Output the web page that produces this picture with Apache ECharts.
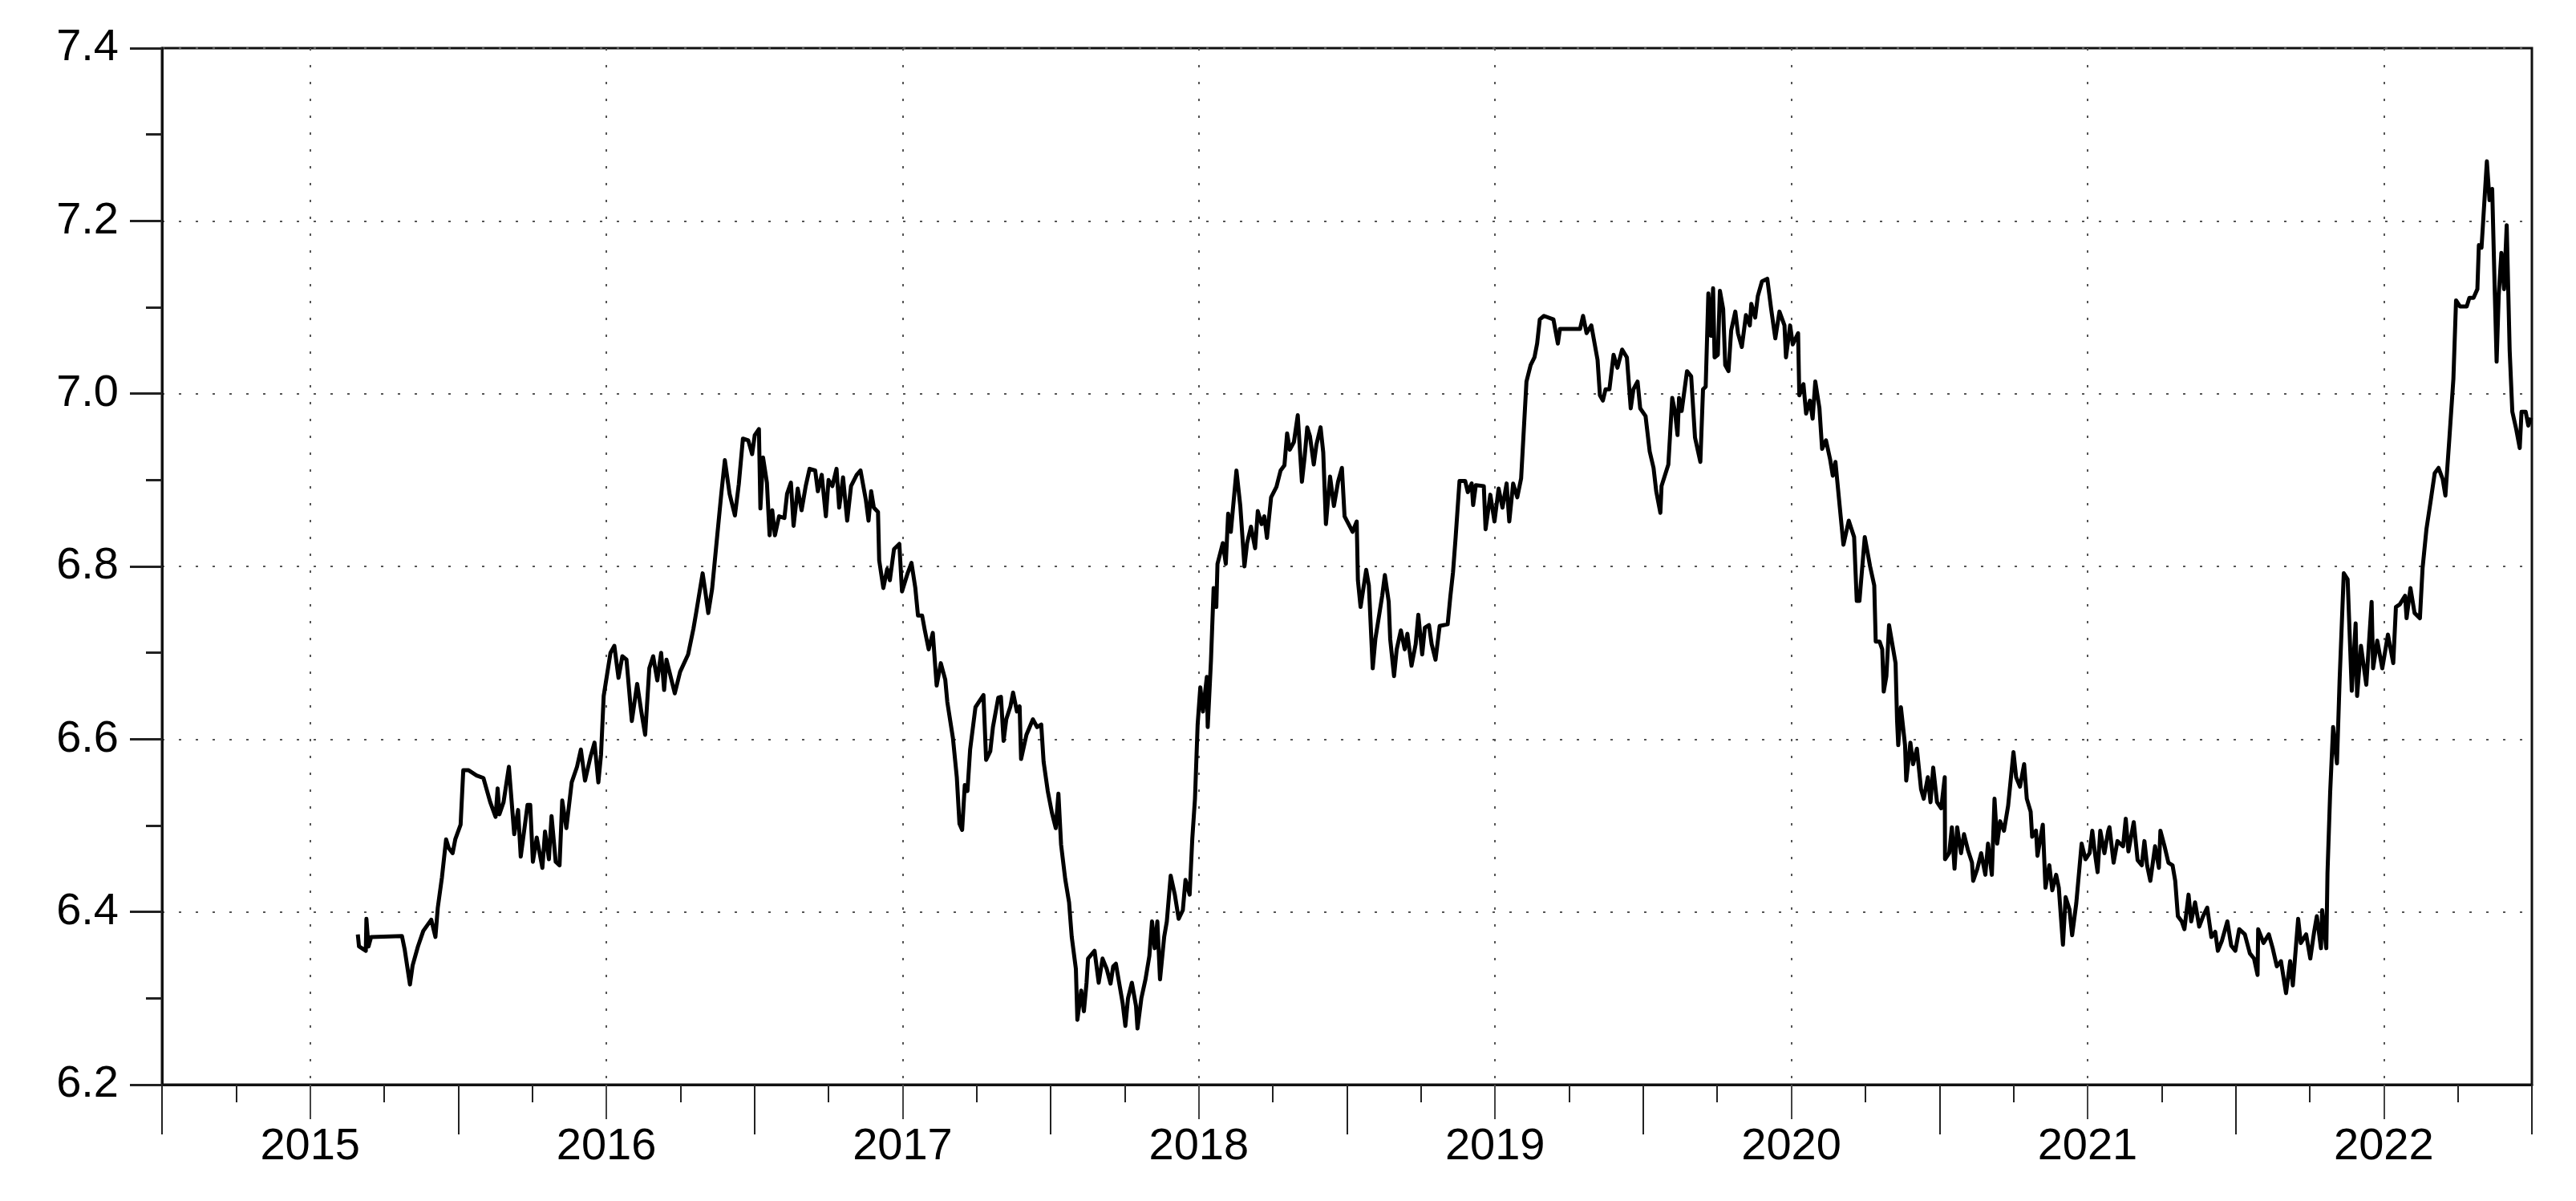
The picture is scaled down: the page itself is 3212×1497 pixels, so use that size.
<!DOCTYPE html>
<html><head><meta charset="utf-8">
<script src="https://cdn.jsdelivr.net/npm/echarts@6/dist/echarts.min.js"></script>
<style>html,body{margin:0;padding:0;background:#fff}#c{width:3212px;height:1497px}</style>
</head><body><div id="c"></div>
<script>
// [decimal year, rate]
const seg2015 = [[2015.661,6.374],[2015.665,6.360],[2015.688,6.355],[2015.690,6.392],[2015.697,6.360],[2015.706,6.371],[2015.810,6.372],[2015.819,6.357],[2015.837,6.316],[2015.846,6.338],[2015.864,6.360],[2015.882,6.378],[2015.909,6.391],[2015.923,6.371],[2015.931,6.405],[2015.945,6.440],[2015.959,6.484],[2015.968,6.474],[2015.981,6.468],[2015.990,6.484]];
const seg2016 = [[2016.008,6.501],[2016.017,6.564],[2016.035,6.564],[2016.062,6.558],[2016.085,6.555],[2016.108,6.527],[2016.126,6.510],[2016.133,6.543],[2016.139,6.513],[2016.153,6.527],[2016.171,6.568],[2016.189,6.490],[2016.202,6.518],[2016.211,6.464],[2016.234,6.524],[2016.243,6.524],[2016.252,6.458],[2016.265,6.486],[2016.284,6.451],[2016.293,6.493],[2016.306,6.461],[2016.315,6.511],[2016.329,6.458],[2016.342,6.454],[2016.351,6.529],[2016.365,6.497],[2016.383,6.550],[2016.401,6.568],[2016.414,6.588],[2016.428,6.552],[2016.446,6.579],[2016.460,6.596],[2016.473,6.550],[2016.482,6.582],[2016.491,6.650],[2016.514,6.700],[2016.527,6.708],[2016.541,6.671],[2016.554,6.696],[2016.568,6.692],[2016.586,6.621],[2016.604,6.664],[2016.618,6.632],[2016.631,6.605],[2016.645,6.682],[2016.658,6.696],[2016.672,6.668],[2016.685,6.700],[2016.695,6.657],[2016.703,6.692],[2016.731,6.653],[2016.749,6.678],[2016.776,6.698],[2016.794,6.728],[2016.803,6.746],[2016.825,6.792],[2016.834,6.771],[2016.844,6.746],[2016.857,6.774],[2016.871,6.824],[2016.888,6.884],[2016.900,6.923],[2016.916,6.884],[2016.934,6.859],[2016.947,6.895],[2016.961,6.948],[2016.979,6.946],[2016.992,6.930]];
const seg2017 = [[2017.001,6.952],[2017.015,6.959],[2017.020,6.867],[2017.029,6.926],[2017.042,6.897],[2017.051,6.836],[2017.060,6.865],[2017.069,6.836],[2017.083,6.858],[2017.101,6.856],[2017.110,6.884],[2017.123,6.897],[2017.132,6.847],[2017.146,6.890],[2017.159,6.865],[2017.173,6.893],[2017.186,6.913],[2017.205,6.911],[2017.214,6.887],[2017.227,6.906],[2017.241,6.858],[2017.250,6.900],[2017.263,6.893],[2017.277,6.913],[2017.286,6.868],[2017.299,6.903],[2017.313,6.853],[2017.326,6.893],[2017.345,6.906],[2017.358,6.911],[2017.376,6.877],[2017.385,6.853],[2017.394,6.887],[2017.403,6.868],[2017.417,6.863],[2017.421,6.807],[2017.435,6.775],[2017.448,6.797],[2017.457,6.784],[2017.471,6.820],[2017.489,6.826],[2017.498,6.771],[2017.516,6.791],[2017.530,6.804],[2017.543,6.775],[2017.552,6.743],[2017.566,6.743],[2017.575,6.726],[2017.588,6.704],[2017.602,6.723],[2017.615,6.662],[2017.629,6.688],[2017.644,6.669],[2017.651,6.643],[2017.670,6.601],[2017.683,6.556],[2017.692,6.502],[2017.701,6.495],[2017.710,6.547],[2017.719,6.540],[2017.728,6.588],[2017.746,6.637],[2017.773,6.651],[2017.782,6.576],[2017.796,6.586],[2017.805,6.614],[2017.823,6.648],[2017.832,6.649],[2017.841,6.598],[2017.850,6.623],[2017.864,6.638],[2017.873,6.654],[2017.886,6.632],[2017.895,6.638],[2017.900,6.577],[2017.918,6.605],[2017.940,6.623],[2017.954,6.614],[2017.968,6.617],[2017.976,6.574],[2017.990,6.540]];
const seg2018 = [[2018.004,6.515],[2018.017,6.497],[2018.026,6.537],[2018.035,6.478],[2018.049,6.438],[2018.062,6.411],[2018.071,6.371],[2018.085,6.334],[2018.090,6.275],[2018.103,6.309],[2018.112,6.285],[2018.121,6.318],[2018.126,6.346],[2018.148,6.355],[2018.162,6.318],[2018.175,6.346],[2018.189,6.334],[2018.202,6.317],[2018.211,6.337],[2018.220,6.340],[2018.229,6.322],[2018.243,6.294],[2018.252,6.268],[2018.261,6.300],[2018.274,6.318],[2018.288,6.291],[2018.293,6.265],[2018.306,6.300],[2018.320,6.322],[2018.333,6.349],[2018.342,6.389],[2018.351,6.358],[2018.360,6.389],[2018.369,6.322],[2018.383,6.371],[2018.392,6.389],[2018.405,6.442],[2018.419,6.420],[2018.432,6.392],[2018.446,6.402],[2018.455,6.437],[2018.469,6.420],[2018.478,6.485],[2018.487,6.531],[2018.496,6.617],[2018.505,6.660],[2018.514,6.632],[2018.527,6.672],[2018.530,6.614],[2018.541,6.691],[2018.550,6.775],[2018.559,6.753],[2018.563,6.803],[2018.581,6.827],[2018.591,6.803],[2018.599,6.861],[2018.608,6.840],[2018.627,6.911],[2018.640,6.870],[2018.654,6.800],[2018.663,6.827],[2018.676,6.846],[2018.690,6.821],[2018.699,6.864],[2018.712,6.849],[2018.721,6.858],[2018.730,6.833],[2018.744,6.880],[2018.762,6.892],[2018.776,6.911],[2018.789,6.917],[2018.798,6.954],[2018.807,6.935],[2018.821,6.944],[2018.834,6.975],[2018.848,6.898],[2018.857,6.926],[2018.866,6.961],[2018.875,6.951],[2018.888,6.918],[2018.897,6.941],[2018.911,6.961],[2018.920,6.932],[2018.929,6.849],[2018.943,6.904],[2018.956,6.870],[2018.970,6.898],[2018.983,6.914],[2018.992,6.858]];
const seg2019 = [[2019.010,6.846],[2019.019,6.840],[2019.033,6.852],[2019.037,6.784],[2019.046,6.753],[2019.065,6.796],[2019.074,6.778],[2019.087,6.682],[2019.096,6.716],[2019.119,6.766],[2019.128,6.790],[2019.141,6.759],[2019.146,6.716],[2019.159,6.673],[2019.168,6.704],[2019.182,6.726],[2019.195,6.704],[2019.204,6.722],[2019.218,6.685],[2019.232,6.710],[2019.241,6.744],[2019.254,6.698],[2019.263,6.729],[2019.277,6.732],[2019.286,6.710],[2019.299,6.692],[2019.313,6.731],[2019.340,6.733],[2019.349,6.765],[2019.358,6.793],[2019.367,6.834],[2019.380,6.899],[2019.399,6.899],[2019.408,6.886],[2019.421,6.896],[2019.426,6.871],[2019.435,6.894],[2019.462,6.893],[2019.468,6.843],[2019.484,6.883],[2019.498,6.852],[2019.512,6.890],[2019.525,6.868],[2019.539,6.896],[2019.548,6.852],[2019.561,6.896],[2019.575,6.880],[2019.588,6.902],[2019.597,6.958],[2019.606,7.014],[2019.620,7.033],[2019.633,7.042],[2019.642,7.058],[2019.651,7.086],[2019.665,7.090],[2019.697,7.086],[2019.712,7.058],[2019.719,7.075],[2019.787,7.075],[2019.797,7.090],[2019.809,7.070],[2019.825,7.079],[2019.846,7.039],[2019.854,6.998],[2019.864,6.992],[2019.873,7.005],[2019.886,7.005],[2019.900,7.045],[2019.913,7.030],[2019.929,7.051],[2019.945,7.042],[2019.958,6.983],[2019.967,7.005],[2019.981,7.014],[2019.990,6.983]];
const seg2020 = [[2020.008,6.974],[2020.022,6.933],[2020.035,6.914],[2020.044,6.887],[2020.058,6.862],[2020.062,6.893],[2020.085,6.918],[2020.098,6.995],[2020.107,6.980],[2020.116,6.952],[2020.121,6.995],[2020.130,6.980],[2020.148,7.026],[2020.162,7.020],[2020.175,6.949],[2020.193,6.921],[2020.202,7.005],[2020.211,7.008],[2020.220,7.116],[2020.229,7.067],[2020.236,7.122],[2020.241,7.042],[2020.252,7.045],[2020.259,7.119],[2020.270,7.098],[2020.277,7.033],[2020.288,7.026],[2020.297,7.073],[2020.311,7.095],[2020.320,7.070],[2020.333,7.054],[2020.347,7.091],[2020.360,7.079],[2020.365,7.104],[2020.378,7.088],[2020.387,7.113],[2020.401,7.130],[2020.419,7.133],[2020.432,7.098],[2020.446,7.064],[2020.460,7.095],[2020.477,7.079],[2020.482,7.042],[2020.496,7.079],[2020.505,7.057],[2020.523,7.070],[2020.527,6.998],[2020.541,7.011],[2020.550,6.977],[2020.563,6.992],[2020.572,6.971],[2020.581,7.014],[2020.595,6.983],[2020.604,6.936],[2020.617,6.946],[2020.631,6.924],[2020.640,6.905],[2020.649,6.921],[2020.663,6.871],[2020.676,6.825],[2020.694,6.853],[2020.712,6.834],[2020.721,6.760],[2020.730,6.760],[2020.748,6.834],[2020.766,6.800],[2020.780,6.778],[2020.785,6.713],[2020.798,6.713],[2020.807,6.704],[2020.812,6.655],[2020.821,6.673],[2020.830,6.732],[2020.843,6.706],[2020.852,6.688],[2020.857,6.622],[2020.861,6.593],[2020.870,6.637],[2020.884,6.593],[2020.888,6.552],[2020.902,6.596],[2020.911,6.571],[2020.924,6.589],[2020.938,6.542],[2020.947,6.531],[2020.961,6.556],[2020.970,6.527],[2020.979,6.567],[2020.992,6.527]];
const seg2021 = [[2021.006,6.520],[2021.018,6.556],[2021.019,6.461],[2021.033,6.468],[2021.042,6.498],[2021.051,6.450],[2021.060,6.498],[2021.073,6.468],[2021.083,6.490],[2021.096,6.472],[2021.110,6.457],[2021.114,6.436],[2021.128,6.450],[2021.141,6.468],[2021.155,6.443],[2021.164,6.479],[2021.177,6.443],[2021.186,6.531],[2021.195,6.479],[2021.205,6.505],[2021.218,6.494],[2021.232,6.523],[2021.250,6.585],[2021.259,6.556],[2021.272,6.545],[2021.286,6.571],[2021.295,6.531],[2021.308,6.516],[2021.313,6.487],[2021.326,6.494],[2021.331,6.465],[2021.349,6.501],[2021.358,6.428],[2021.371,6.454],[2021.381,6.425],[2021.394,6.443],[2021.403,6.428],[2021.417,6.362],[2021.426,6.417],[2021.439,6.403],[2021.448,6.373],[2021.462,6.410],[2021.480,6.479],[2021.493,6.461],[2021.507,6.468],[2021.516,6.494],[2021.525,6.468],[2021.534,6.446],[2021.543,6.494],[2021.557,6.468],[2021.570,6.494],[2021.574,6.498],[2021.588,6.457],[2021.601,6.482],[2021.620,6.476],[2021.629,6.508],[2021.638,6.470],[2021.656,6.504],[2021.669,6.460],[2021.683,6.454],[2021.692,6.482],[2021.701,6.454],[2021.712,6.436],[2021.728,6.476],[2021.741,6.451],[2021.746,6.494],[2021.760,6.476],[2021.773,6.457],[2021.787,6.454],[2021.796,6.436],[2021.805,6.395],[2021.818,6.389],[2021.827,6.380],[2021.841,6.420],[2021.850,6.389],[2021.863,6.411],[2021.877,6.383],[2021.890,6.395],[2021.904,6.405],[2021.918,6.371],[2021.931,6.377],[2021.940,6.355],[2021.954,6.367],[2021.972,6.389],[2021.985,6.361],[2021.999,6.355]];
const seg2022 = [[2022.012,6.380],[2022.031,6.374],[2022.048,6.352],[2022.062,6.346],[2022.074,6.327],[2022.076,6.380],[2022.094,6.364],[2022.112,6.374],[2022.125,6.358],[2022.139,6.337],[2022.153,6.343],[2022.170,6.306],[2022.184,6.343],[2022.193,6.315],[2022.211,6.392],[2022.220,6.364],[2022.238,6.374],[2022.252,6.346],[2022.265,6.377],[2022.274,6.395],[2022.288,6.358],[2022.292,6.402],[2022.306,6.358],[2022.310,6.445],[2022.319,6.538],[2022.329,6.614],[2022.342,6.572],[2022.351,6.669],[2022.365,6.792],[2022.378,6.785],[2022.392,6.656],[2022.405,6.734],[2022.410,6.650],[2022.423,6.708],[2022.441,6.663],[2022.459,6.759],[2022.464,6.682],[2022.478,6.714],[2022.495,6.682],[2022.514,6.721],[2022.532,6.688],[2022.541,6.753],[2022.554,6.756],[2022.572,6.766],[2022.577,6.740],[2022.590,6.775],[2022.604,6.746],[2022.622,6.740],[2022.631,6.798],[2022.644,6.843],[2022.658,6.875],[2022.672,6.908],[2022.685,6.914],[2022.699,6.901],[2022.708,6.882],[2022.721,6.946],[2022.735,7.017],[2022.744,7.108],[2022.757,7.101],[2022.780,7.101],[2022.789,7.111],[2022.803,7.111],[2022.816,7.121],[2022.821,7.172],[2022.830,7.169],[2022.848,7.269],[2022.857,7.224],[2022.866,7.237],[2022.875,7.114],[2022.881,7.037],[2022.888,7.114],[2022.897,7.163],[2022.906,7.121],[2022.915,7.195],[2022.925,7.050],[2022.934,6.979],[2022.947,6.959],[2022.959,6.937],[2022.965,6.979],[2022.979,6.979],[2022.988,6.963],[2022.997,6.972]];

const yearLabels = [2015, 2016, 2017, 2018, 2019, 2020, 2021, 2022];
const xMin = 2015, xMax = 2023;
const yMin = 6.2, yMax = 7.4, yStep = 0.2;

const rateData = [].concat(seg2015, seg2016, seg2017, seg2018, seg2019, seg2020, seg2021, seg2022);
const labelPositions = yearLabels.map(y => y + 0.5);

const FONT = '"Liberation Sans", Arial, Helvetica, sans-serif';
const dotted = { color: '#555', width: 2, type: [3, 18] };
const G = { left: 202, right: 55, top: 60, bottom: 145 };

const chart = echarts.init(document.getElementById('c'), null, { renderer: 'canvas' });
const hiddenY = (gi) => ({ type: 'value', gridIndex: gi, min: yMin, max: yMax, show: false });

chart.setOption({
  animation: false,
  backgroundColor: '#fff',
  grid: [
    Object.assign({ show: true, borderColor: '#111', borderWidth: 3, backgroundColor: 'rgba(0,0,0,0)' }, G),
    Object.assign({}, G),
    Object.assign({}, G)
  ],
  xAxis: [
    { type: 'value', gridIndex: 0, min: xMin, max: xMax, interval: 0.25,
      axisLine: { show: true, lineStyle: { color: '#111', width: 3 } },
      axisTick: { show: true, length: 22, lineStyle: { color: '#222', width: 2 } },
      axisLabel: { show: false }, splitLine: { show: false } },
    { type: 'value', gridIndex: 1, min: xMin, max: xMax, interval: 1,
      axisLine: { show: false },
      axisTick: { show: true, length: 62, lineStyle: { color: '#222', width: 2 } },
      axisLabel: { show: false }, splitLine: { show: false } },
    { type: 'value', gridIndex: 2, min: xMin, max: xMax,
      axisLine: { show: false },
      axisTick: { show: true, length: 43, customValues: labelPositions, lineStyle: { color: '#444', width: 2 } },
      axisLabel: { show: true, customValues: labelPositions, formatter: v => String(Math.floor(v)),
        fontFamily: FONT, fontSize: 56, color: '#000', margin: 50 },
      splitLine: { show: true, lineStyle: dotted } }
  ],
  yAxis: [
    { type: 'value', gridIndex: 0, min: yMin, max: yMax, interval: yStep,
      axisLine: { show: true, lineStyle: { color: '#111', width: 3 } },
      axisTick: { show: true, length: 40, lineStyle: { color: '#222', width: 3 } },
      minorTick: { show: true, splitNumber: 2, length: 20, lineStyle: { color: '#222', width: 3 } },
      axisLabel: { show: true, formatter: v => v.toFixed(1), fontFamily: FONT, fontSize: 56, color: '#000', margin: 54 },
      splitLine: { show: true, lineStyle: dotted } },
    hiddenY(1), hiddenY(2)
  ],
  series: [{
    type: 'line', xAxisIndex: 0, yAxisIndex: 0, data: rateData,
    showSymbol: false, symbol: 'none', smooth: false,
    lineStyle: { color: '#000', width: 5, join: 'round' }, z: 5
  }]
});
</script></body></html>
